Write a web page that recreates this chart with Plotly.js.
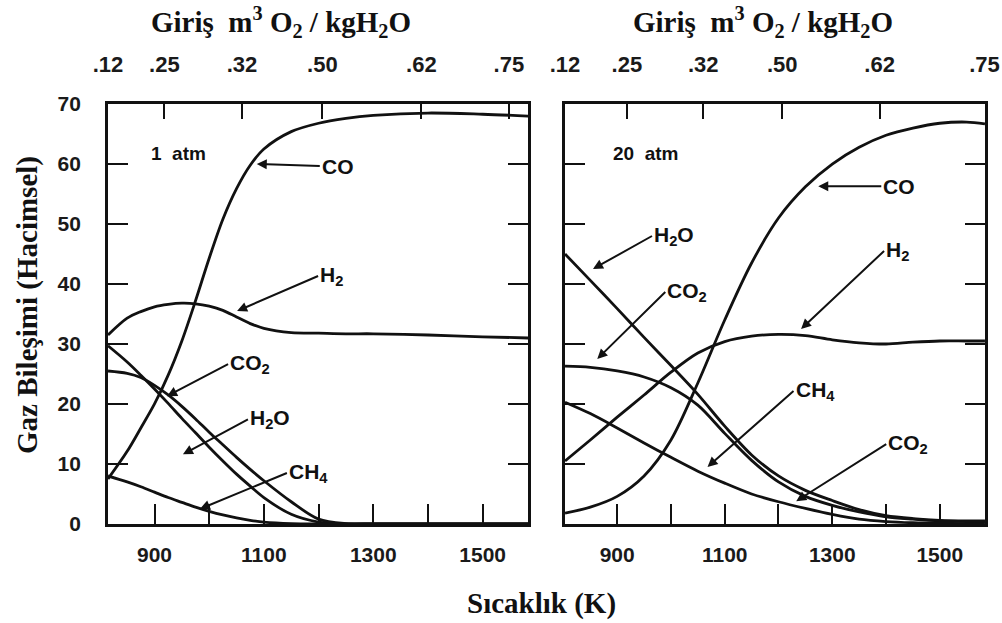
<!DOCTYPE html>
<html><head><meta charset="utf-8">
<script src="https://cdn.plot.ly/plotly-3.0.1.min.js"></script>
<style>html,body{margin:0;padding:0;background:#fff}#chart{width:1002px;height:623px}</style>
</head><body><div id="chart"></div>
<script>
// ---------- data: 1 atm panel ----------
const T_1atm   = [815, 850, 875, 900, 925, 950, 975, 1000, 1025, 1050, 1075, 1100, 1150, 1200, 1250, 1300, 1400, 1500, 1583];
const CO_1atm  = [7.5, 12.1, 16, 20, 24.8, 30.5, 37.2, 44.3, 50.8, 55.9, 59.8, 62.5, 65.4, 66.8, 67.6, 68.1, 68.5, 68.3, 68];
const H2_1atm  = [31.5, 34.3, 35.4, 36.2, 36.6, 36.8, 36.7, 36.3, 35.6, 34.5, 33.4, 32.6, 31.9, 31.8, 31.7, 31.7, 31.5, 31.2, 31];
const H2O_1atm = [29.7, 27, 24.8, 22.5, 20.1, 17.6, 15.2, 12.8, 10.5, 8.3, 6.3, 4.4, 1.6, 0.3, 0, 0, 0, 0, 0];
const CO2_1atm = [25.5, 25.1, 24.4, 23.1, 21.5, 19.6, 17.5, 15.3, 13.2, 11.1, 9.1, 7.2, 3.7, 0.8, 0.05, 0, 0, 0, 0];
const CH4_1atm = [8, 7, 6.2, 5.3, 4.4, 3.6, 2.8, 2.1, 1.5, 1, 0.6, 0.3, 0.05, 0, 0, 0, 0, 0, 0];

// ---------- data: 20 atm panel ----------
const T_20atm   = [803, 850, 900, 950, 1000, 1050, 1100, 1150, 1200, 1250, 1300, 1350, 1400, 1450, 1500, 1550, 1584];
const CO_20atm  = [1.8, 2.8, 4.6, 8, 14, 23.5, 34, 43.5, 51, 56.2, 60, 62.8, 64.8, 66, 66.8, 67, 66.7];
const H2_20atm  = [10.5, 14, 17.8, 21.5, 25.3, 28.5, 30.4, 31.3, 31.6, 31.4, 30.7, 30.2, 30, 30.3, 30.5, 30.5, 30.5];
const H2O_20atm = [45, 40.6, 35.9, 31.1, 26.4, 21.6, 16.3, 11.5, 8, 5.6, 3.9, 2.4, 1.4, 0.9, 0.6, 0.5, 0.5];
const CO2_20atm = [26.3, 26.1, 25.5, 24.5, 22.7, 19.8, 15.1, 10.6, 7, 4.6, 3.1, 2, 1.2, 0.8, 0.5, 0.4, 0.4];
const CH4_20atm = [20.3, 18.4, 16, 13.5, 11.1, 8.8, 6.8, 5, 3.7, 2.6, 1.6, 0.8, 0.4, 0.2, 0.1, 0.05, 0];

// ---------- axes ticks ----------
const bottomTickVals = [900, 1000, 1100, 1200, 1300, 1400, 1500];
const bottomTickText = ['900', ' ', '1100', ' ', '1300', ' ', '1500'];
const yTickVals = [0, 10, 20, 30, 40, 50, 60, 70];
const topTickText = ['.12', '.25', '.32', '.50', '.62', '.75'];
const topTickT_1atm  = [815, 918, 1060, 1207, 1388, 1548];
const topTickT_20atm = [803, 918, 1060, 1207, 1388, 1583];
const range_1atm = [815, 1583];
const range_20atm = [803, 1584];

// ---------- curve labels ----------
// [text, tipT, tipY, dxPx (to text left edge), dyPx]
const labels_1atm = [
  ['CO', 1087, 60, 63, 2],
  ['H<sub>2</sub>', 1051, 35.5, 81, -35],
  ['CO<sub>2</sub>', 923, 21.3, 61, -32],
  ['H<sub>2</sub>O', 952, 11.6, 65, -35],
  ['CH<sub>4</sub>', 983, 2.5, 87, -36]
];
const labels_20atm = [
  ['CO', 1274, 56.3, 63, 0],
  ['H<sub>2</sub>O', 855, 42.5, 59, -33],
  ['CO<sub>2</sub>', 863, 27.5, 68, -67],
  ['H<sub>2</sub>', 1242, 32.5, 83, -78],
  ['CH<sub>4</sub>', 1068, 9.5, 86, -76],
  ['CO<sub>2</sub>', 1233, 3.8, 90, -57]
];
const pressureLabels = [['1\u00A0\u00A0atm', 943, 61.7], ['20\u00A0\u00A0atm', 952, 61.7]];

const topTitle = 'Giriş\u00A0\u00A0m<sup>3</sup> O<sub>2</sub> / kgH<sub>2</sub>O';
const xTitle = 'Sıcaklık (K)';
const yTitle = 'Gaz Bileşimi (Hacimsel)';

// ---------- build ----------
const SANS = 'Liberation Sans, Arial, sans-serif';
const SERIF = 'Liberation Serif, Times New Roman, serif';
const tickFont = {family: SANS, size: 21, color: '#1a1a1a', weight: 'bold'};
const lineStyle = {color: '#111', width: 2.8, shape: 'spline', smoothing: 0.9};

const traces = [];
function addSeries(T, ys, xa, ya) {
  ys.forEach(y => traces.push({x: T, y: y, xaxis: xa, yaxis: ya, mode: 'lines', line: lineStyle, hoverinfo: 'skip', showlegend: false}));
}
addSeries(T_1atm, [CO_1atm, H2_1atm, H2O_1atm, CO2_1atm, CH4_1atm], 'x', 'y');
addSeries(T_20atm, [CO_20atm, H2_20atm, H2O_20atm, CO2_20atm, CH4_20atm], 'x2', 'y2');
traces.push({x: range_1atm, y: [0, 0], xaxis: 'x3', yaxis: 'y', mode: 'lines', line: {width: 0}, hoverinfo: 'skip', showlegend: false});
traces.push({x: range_20atm, y: [0, 0], xaxis: 'x4', yaxis: 'y2', mode: 'lines', line: {width: 0}, hoverinfo: 'skip', showlegend: false});

const yDom = [0.159, 0.833];
const dom1 = [0.1078, 0.527];
const dom2 = [0.5639, 0.983];

function bottomAxis(dom, rng, anchor) {
  return {domain: dom, range: rng, anchor: anchor, tickmode: 'array', tickvals: bottomTickVals, ticktext: bottomTickText,
    ticks: 'inside', ticklen: 20, tickwidth: 2, tickcolor: '#111', showline: true, linewidth: 3, linecolor: '#111',
    mirror: true, showgrid: false, zeroline: false, tickfont: tickFont, ticklabelstandoff: 10, fixedrange: true};
}
function leftAxis(anchor, showLabels) {
  return {domain: yDom, range: [0, 70], anchor: anchor, tickmode: 'array', tickvals: yTickVals,
    ticks: 'inside', ticklen: 20, tickwidth: 2, tickcolor: '#111', showline: true, linewidth: 3, linecolor: '#111',
    mirror: 'ticks', showgrid: false, zeroline: false, showticklabels: showLabels, tickfont: tickFont, ticklabelstandoff: 20, fixedrange: true};
}
function topAxis(overlay, rng, vals, anchor) {
  return {overlaying: overlay, side: 'top', anchor: anchor, range: rng, tickmode: 'array', tickvals: vals, ticktext: topTickText,
    ticks: 'inside', ticklen: 15, tickwidth: 2, tickcolor: '#111', showline: false, showgrid: false, zeroline: false,
    tickfont: {family: SANS, size: 22, color: '#1a1a1a', weight: 'bold'}, ticklabelstandoff: 27, fixedrange: true};
}

const annotations = [];
const labelFont = {family: SANS, size: 21, color: '#111', weight: 'bold'};
function addLabels(list, xa, ya) {
  list.forEach(l => annotations.push({x: l[1], y: l[2], xref: xa, yref: ya, text: l[0], showarrow: true,
    arrowhead: 2, arrowsize: 1, arrowwidth: 2, arrowcolor: '#111', axref: 'pixel', ayref: 'pixel', ax: l[3], ay: l[4],
    xanchor: 'left', yanchor: 'middle', font: labelFont}));
}
addLabels(labels_1atm, 'x', 'y');
addLabels(labels_20atm, 'x2', 'y2');
annotations.push({x: pressureLabels[0][1], y: pressureLabels[0][2], xref: 'x', yref: 'y', text: pressureLabels[0][0], showarrow: false, font: {family: SANS, size: 19, color: '#111', weight: 'bold'}});
annotations.push({x: pressureLabels[1][1], y: pressureLabels[1][2], xref: 'x2', yref: 'y2', text: pressureLabels[1][0], showarrow: false, font: {family: SANS, size: 19, color: '#111', weight: 'bold'}});

const titleFont = {family: SERIF, size: 29, color: '#111', weight: 'bold'};
annotations.push({x: 281 / 1002, y: 1 - 22 / 623, xref: 'paper', yref: 'paper', text: topTitle, showarrow: false, font: titleFont, xanchor: 'center', yanchor: 'middle'});
annotations.push({x: 763 / 1002, y: 1 - 22 / 623, xref: 'paper', yref: 'paper', text: topTitle, showarrow: false, font: titleFont, xanchor: 'center', yanchor: 'middle'});
annotations.push({x: 541 / 1002, y: 1 - 603 / 623, xref: 'paper', yref: 'paper', text: xTitle, showarrow: false, font: titleFont, xanchor: 'center', yanchor: 'middle'});
annotations.push({x: 27 / 1002, y: 1 - 305 / 623, xref: 'paper', yref: 'paper', text: yTitle, showarrow: false, font: titleFont, textangle: -90, xanchor: 'center', yanchor: 'middle'});

const layout = {
  width: 1002, height: 623, margin: {l: 0, r: 0, t: 0, b: 0},
  paper_bgcolor: '#fff', plot_bgcolor: '#fff', showlegend: false,
  xaxis: bottomAxis(dom1, range_1atm, 'y'),
  yaxis: leftAxis('x', true),
  xaxis2: bottomAxis(dom2, range_20atm, 'y2'),
  yaxis2: leftAxis('x2', false),
  xaxis3: topAxis('x', range_1atm, topTickT_1atm, 'y'),
  xaxis4: topAxis('x2', range_20atm, topTickT_20atm, 'y2'),
  annotations: annotations
};

Plotly.newPlot('chart', traces, layout, {displayModeBar: false, staticPlot: true});
</script></body></html>
